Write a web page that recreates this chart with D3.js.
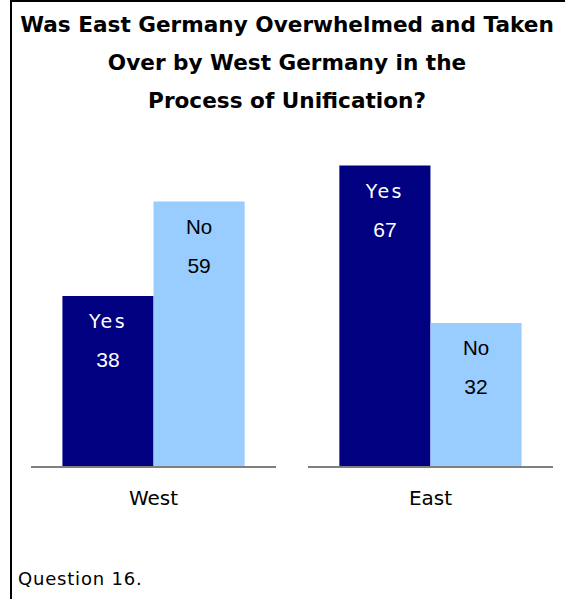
<!DOCTYPE html>
<html>
<head>
<meta charset="utf-8">
<script src="https://cdn.jsdelivr.net/npm/d3@7"></script>
<style>
  body { margin: 0; background: #fff; }
  svg { display: block; }
</style>
</head>
<body>
<svg id="chart" width="565" height="599"></svg>
<script>
// chart data
const regions = ["West", "East"];
const answers = ["Yes", "No"];
const yesValues = [38, 67];
const noValues = [59, 32];
const titleLines = [
  "Was East Germany Overwhelmed and Taken",
  "Over by West Germany in the",
  "Process of Unification?"
];
const footnote = "Question 16.";

const colors = { Yes: "#000080", No: "#99ccff" };
const labelColors = { Yes: "#ffffff", No: "#000000" };

const width = 565;
const height = 599;
const svg = d3.select("#chart");

// frame on top and left
svg.append("path")
  .attr("d", `M11,599 V1 H565`)
  .attr("fill", "none")
  .attr("stroke", "#000")
  .attr("stroke-width", 2);

// title
svg.append("g")
  .selectAll("text")
  .data(titleLines)
  .join("text")
  .attr("x", 287)
  .attr("y", (d, i) => 32 + i * 38)
  .attr("text-anchor", "middle")
  .attr("font-family", "DejaVu Sans, sans-serif")
  .attr("font-weight", "bold")
  .attr("font-size", 21.6)
  .attr("fill", "#000")
  .text(d => d);

// scales
const x0 = d3.scaleBand()
  .domain(regions)
  .range([31, 553])
  .paddingInner(0.115);

const x1 = d3.scaleBand()
  .domain(answers)
  .range([0, x0.bandwidth()])
  .paddingInner(0)
  .paddingOuter(0.345);

const y = d3.scaleLinear()
  .domain([0, 100])
  .range([467, 17]);

const rows = regions.map((r, i) => ({
  region: r,
  values: [{ key: "Yes", value: yesValues[i] }, { key: "No", value: noValues[i] }]
}));

const groups = svg.append("g")
  .selectAll("g")
  .data(rows)
  .join("g")
  .attr("transform", d => `translate(${x0(d.region)},0)`);

groups.selectAll("rect")
  .data(d => d.values)
  .join("rect")
  .attr("x", d => x1(d.key))
  .attr("y", d => y(d.value))
  .attr("width", x1.bandwidth())
  .attr("height", d => y(0) - y(d.value))
  .attr("fill", d => colors[d.key]);

// answer label and value inside each bar
groups.selectAll("text.key")
  .data(d => d.values)
  .join("text")
  .attr("class", "key")
  .attr("x", d => x1(d.key) + x1.bandwidth() / 2)
  .attr("y", d => y(d.value) + 32)
  .attr("text-anchor", "middle")
  .attr("font-family", d => d.key == "Yes" ? "DejaVu Sans, sans-serif" : "Liberation Sans, Arial, sans-serif")
  .attr("font-size", d => d.key == "Yes" ? 19 : 20.5)
  .attr("letter-spacing", d => d.key == "Yes" ? 2.5 : 0)
  .attr("fill", d => labelColors[d.key])
  .text(d => d.key);

groups.selectAll("text.val")
  .data(d => d.values)
  .join("text")
  .attr("class", "val")
  .attr("x", d => x1(d.key) + x1.bandwidth() / 2)
  .attr("y", d => y(d.value) + 71)
  .attr("text-anchor", "middle")
  .attr("font-family", "Liberation Sans, Arial, sans-serif")
  .attr("font-size", 21)
  .attr("fill", d => labelColors[d.key])
  .text(d => d.value);

// baseline per region
groups.append("line")
  .attr("x1", 0)
  .attr("x2", x0.bandwidth())
  .attr("y1", y(0))
  .attr("y2", y(0))
  .attr("stroke", "#7f7f7f")
  .attr("stroke-width", 2);

// region names
groups.append("text")
  .attr("x", x0.bandwidth() / 2)
  .attr("y", 505)
  .attr("text-anchor", "middle")
  .attr("font-family", "DejaVu Sans, sans-serif")
  .attr("font-size", 20)
  .attr("fill", "#000")
  .text(d => d.region);

// footnote
svg.append("text")
  .attr("x", 18)
  .attr("y", 585)
  .attr("font-family", "DejaVu Sans, sans-serif")
  .attr("font-size", 18)
  .attr("letter-spacing", 0.8)
  .attr("fill", "#000")
  .text(footnote);
</script>
</body>
</html>
